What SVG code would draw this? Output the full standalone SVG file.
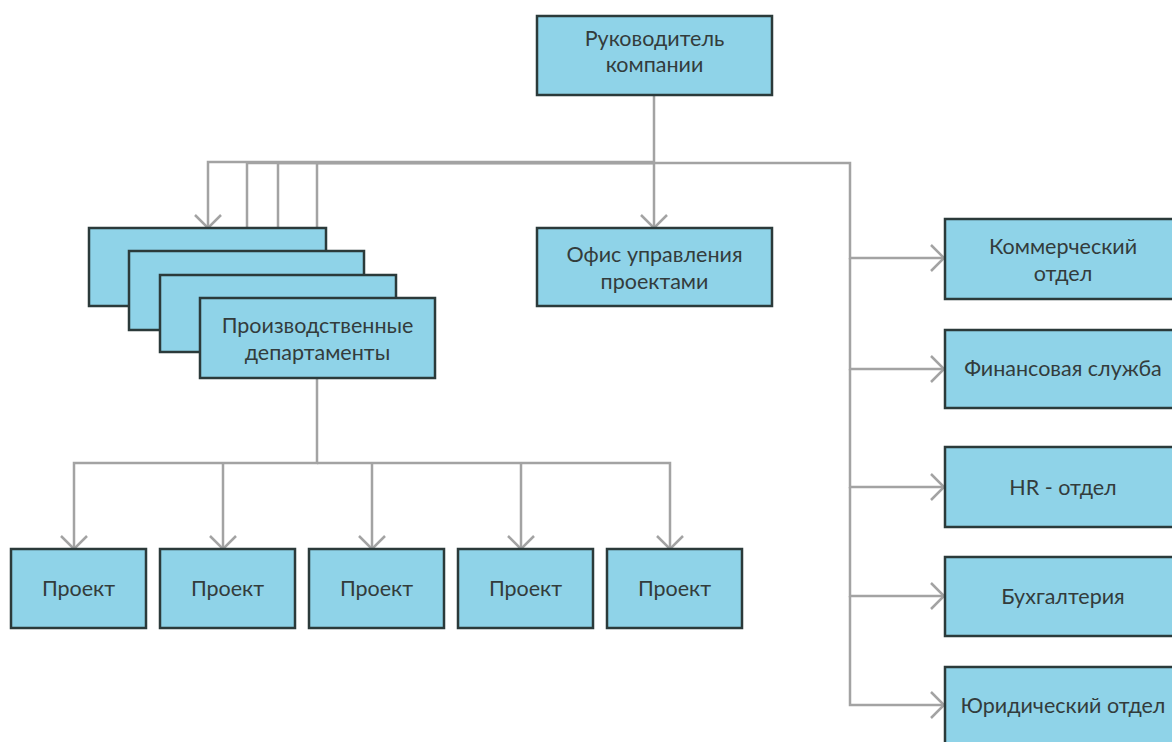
<svg xmlns="http://www.w3.org/2000/svg" width="1172" height="742" viewBox="0 0 1172 742">
<style>
.box{fill:#8fd3e8;stroke:#2b3a3a;stroke-width:2.5}
.t{font-family:Lato,"Liberation Sans",sans-serif;font-size:21.5px;fill:#333c3c;text-anchor:middle;dominant-baseline:middle}
.c{fill:none;stroke:#a3a3a3;stroke-width:2.5}
</style>
<defs>
<marker id="ah" markerUnits="userSpaceOnUse" markerWidth="30" markerHeight="30" refX="15" refY="15" orient="auto">
<path d="M2,2 L15,15 L2,28" fill="none" stroke="#a3a3a3" stroke-width="2.5"/>
</marker>
</defs>
<rect width="1172" height="742" fill="#ffffff"/>
<g id="connectors">
<path class="c" d="M654,95 V228" marker-end="url(#ah)"/>
<path class="c" d="M654,162 H208 V228" marker-end="url(#ah)"/>
<path class="c" d="M654,163 H247 V251" marker-end="url(#ah)"/>
<path class="c" d="M654,163 H278 V275" marker-end="url(#ah)"/>
<path class="c" d="M654,163 H317 V298" marker-end="url(#ah)"/>
<path class="c" d="M654,163 H850 V258 H944" marker-end="url(#ah)"/>
<path class="c" d="M850,258 V369 H944" marker-end="url(#ah)"/>
<path class="c" d="M850,369 V487 H944" marker-end="url(#ah)"/>
<path class="c" d="M850,487 V596 H944" marker-end="url(#ah)"/>
<path class="c" d="M850,596 V705 H944" marker-end="url(#ah)"/>
<path class="c" d="M317,378 V463 H74 V549" marker-end="url(#ah)"/>
<path class="c" d="M223,463 V549" marker-end="url(#ah)"/>
<path class="c" d="M372,463 V549" marker-end="url(#ah)"/>
<path class="c" d="M317,463 H670 V549" marker-end="url(#ah)"/>
<path class="c" d="M521,463 V549" marker-end="url(#ah)"/>
</g>
<g id="head"><rect class="box" x="537" y="16" width="235" height="79"/><text class="t" x="654.5" y="41">Руководитель</text><text class="t" x="654.5" y="67">компании</text></g>
<g id="office"><rect class="box" x="537" y="228" width="235" height="78"/><text class="t" x="654.5" y="257">Офис управления</text><text class="t" x="654.5" y="284">проектами</text></g>
<g id="dept1"><rect class="box" x="89" y="228" width="237" height="78"/></g>
<g id="dept2"><rect class="box" x="129" y="251" width="235" height="79"/></g>
<g id="dept3"><rect class="box" x="160" y="275" width="236" height="77"/></g>
<g id="dept4"><rect class="box" x="200" y="298" width="235" height="80"/><text class="t" x="317.5" y="328">Производственные</text><text class="t" x="317.5" y="355">департаменты</text></g>
<g id="com"><rect class="box" x="945" y="219" width="236" height="80"/><text class="t" x="1063" y="249">Коммерческий</text><text class="t" x="1063" y="276">отдел</text></g>
<g id="fin"><rect class="box" x="945" y="330" width="236" height="78"/><text class="t" x="1063" y="371">Финансовая служба</text></g>
<g id="hr"><rect class="box" x="945" y="447" width="236" height="80"/><text class="t" x="1063" y="490">HR - отдел</text></g>
<g id="acc"><rect class="box" x="945" y="557" width="236" height="79"/><text class="t" x="1063" y="599">Бухгалтерия</text></g>
<g id="law"><rect class="box" x="945" y="667" width="236" height="80"/><text class="t" x="1063" y="708">Юридический отдел</text></g>
<g id="p1"><rect class="box" x="11" y="549" width="135" height="79"/><text class="t" x="78.5" y="591">Проект</text></g>
<g id="p2"><rect class="box" x="160" y="549" width="135" height="79"/><text class="t" x="227.5" y="591">Проект</text></g>
<g id="p3"><rect class="box" x="309" y="549" width="135" height="79"/><text class="t" x="376.5" y="591">Проект</text></g>
<g id="p4"><rect class="box" x="458" y="549" width="135" height="79"/><text class="t" x="525.5" y="591">Проект</text></g>
<g id="p5"><rect class="box" x="607" y="549" width="135" height="79"/><text class="t" x="674.5" y="591">Проект</text></g>
</svg>
